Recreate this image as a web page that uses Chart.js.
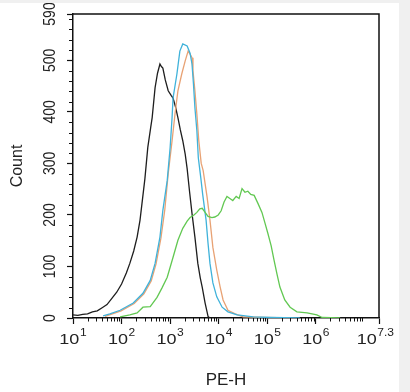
<!DOCTYPE html>
<html><head><meta charset="utf-8">
<script src="https://cdn.jsdelivr.net/npm/chart.js@4/dist/chart.umd.min.js"></script>
<style>html,body{margin:0;padding:0;background:#fff;}canvas{display:block;}</style>
</head><body>
<canvas id="c" width="410" height="392" style="width:410px;height:392px"></canvas>
<script>
// ---- axes ----
const xTickExponents = [1, 2, 3, 4, 5, 6, 7.3];
const xTickBase = '10';
const xTickSup = ['1', '2', '3', '4', '5', '6', '7.3'];
const yTicks = [0, 100, 200, 300, 400, 500, 590];
const yTickLabels = ['0', '100', '200', '300', '400', '500', '590'];
const xTitle = 'PE-H';
const yTitle = 'Count';

// ---- series (x as log10(PE-H), y as count) ----
const blackLogX = [1.00,1.10,1.20,1.30,1.40,1.50,1.60,1.70,1.80,1.90,2.00,2.10,2.17,2.25,2.32,2.38,2.42,2.48,2.54,2.60,2.63,2.69,2.74,2.79,2.82,2.85,2.90,2.96,3.02,3.06,3.11,3.16,3.21,3.26,3.31,3.35,3.40,3.45,3.51,3.57,3.62,3.66,3.72,3.76,3.78,3.82];
const blackCount = [6,5,7,8,12,14,20,26,38,50,66,88,106,130,157,190,222,270,331,370,389,447,475,493,488,485,462,441,432,427,410,389,365,344,318,290,245,203,157,106,78,60,29,12,3,0];

const orangeLogX = [1.66,1.99,2.26,2.46,2.61,2.71,2.81,2.89,2.96,3.04,3.10,3.16,3.24,3.31,3.37,3.41,3.45,3.47,3.51,3.55,3.59,3.64,3.68,3.76,3.82,3.88,3.96,4.03,4.09,4.19,4.34,4.50,4.95,5.47];
const orangeCount = [3,14,28,47,72,105,155,210,280,344,396,441,474,499,518,512,505,480,441,396,344,300,286,235,190,137,93,60,35,15,8,2,1,0];

const blueLogX = [1.62,1.76,1.97,2.24,2.44,2.59,2.69,2.79,2.85,2.94,3.00,3.04,3.06,3.14,3.20,3.26,3.35,3.41,3.45,3.48,3.51,3.55,3.58,3.63,3.67,3.74,3.78,3.82,3.88,3.96,4.07,4.19,4.38,4.71,5.06,5.67];
const blueCount = [4,8,15,29,48,73,106,157,209,267,331,389,427,474,518,532,528,514,493,454,408,364,311,273,240,190,145,106,68,41,21,12,6,2,1,0];

const greenLogX = [1.97,2.17,2.32,2.44,2.59,2.73,2.83,2.94,3.06,3.16,3.26,3.35,3.41,3.49,3.55,3.61,3.66,3.72,3.78,3.86,3.92,3.99,4.05,4.11,4.17,4.23,4.29,4.36,4.42,4.48,4.54,4.60,4.66,4.73,4.81,4.89,4.95,5.01,5.08,5.14,5.20,5.26,5.36,5.47,5.61,5.82,6.02,6.13,6.50];
const greenCount = [2,6,10,21,22,40,58,79,118,151,174,188,195,200,205,212,213,205,197,195,196,200,208,225,236,232,228,236,232,251,244,246,240,238,222,205,185,165,140,112,85,60,35,21,12,10,6,1,0];

const colors = { black: '#1e1e1e', orange: '#e8a274', blue: '#3fb2da', green: '#62c852' };

function pts(lx, cy) { return lx.map((e, i) => ({ x: Math.pow(10, e), y: cy[i] })); }

const FONT = '"Liberation Sans", Arial, sans-serif';
const STRETCH = 1.2;

const decor = {
  id: 'decor',
  beforeDraw(chart) {
    const c = chart.ctx; c.save(); c.fillStyle = '#fff'; c.fillRect(0, 0, chart.width, chart.height); c.restore();
  },
  afterDraw(chart) {
    const c = chart.ctx, a = chart.chartArea, xs = chart.scales.x, ys = chart.scales.y;
    c.save();
    c.strokeStyle = '#111'; c.lineWidth = 1.5;
    c.beginPath(); c.moveTo(a.left, a.top); c.lineTo(a.right, a.top); c.lineTo(a.right, a.bottom); c.stroke();
    // minor ticks
    c.lineWidth = 1;
    c.beginPath();
    for (let d = 1; d <= 7; d++) {
      for (let m = 2; m <= 9; m++) {
        const v = m * Math.pow(10, d);
        if (v >= xs.max) break;
        const px = Math.round(xs.getPixelForValue(v)) + 0.5;
        c.moveTo(px, a.bottom); c.lineTo(px, a.bottom + 3.5);
      }
    }
    for (let v = 20; v < 590; v += 20) {
      if (v % 100 === 0) continue;
      const py = Math.round(ys.getPixelForValue(v)) + 0.5;
      c.moveTo(a.left, py); c.lineTo(a.left - 4, py);
    }
    c.stroke();
    // x tick labels 10^n
    c.fillStyle = '#222';
    xTickExponents.forEach((e, i) => {
      const px = xs.getPixelForValue(Math.pow(10, e));
      c.font = '15px ' + FONT; const wb = c.measureText(xTickBase).width;
      c.font = '10px ' + FONT; const we = c.measureText(xTickSup[i]).width;
      const total = (wb + we + 0.5) * STRETCH;
      let start = px - total / 2;
      if (start + total > 394) start = 394 - total;
      c.save(); c.translate(start, 344); c.scale(STRETCH, 1);
      c.textAlign = 'left'; c.textBaseline = 'alphabetic';
      c.font = '15px ' + FONT; c.fillText(xTickBase, 0, 0);
      c.font = '10px ' + FONT; c.fillText(xTickSup[i], wb + 0.5, -8.5);
      c.restore();
    });
    // y tick labels rotated
    yTicks.forEach((v, i) => {
      const py = ys.getPixelForValue(v);
      c.save(); c.translate(55, py); c.scale(STRETCH, 1); c.rotate(-Math.PI / 2);
      c.font = '14px ' + FONT; c.textAlign = 'center'; c.textBaseline = 'alphabetic';
      c.fillText(yTickLabels[i], 0, 0);
      c.restore();
    });
    // grey frame of the picture
    c.fillStyle = '#f0f0f0';
    c.fillRect(0, 0, chart.width, 3);
    c.fillRect(399, 0, chart.width - 399, chart.height);
    c.restore();
  }
};

new Chart(document.getElementById('c'), {
  type: 'line',
  data: {
    datasets: [
      { label: 'green', data: pts(greenLogX, greenCount), borderColor: colors.green },
      { label: 'blue', data: pts(blueLogX, blueCount), borderColor: colors.blue },
      { label: 'orange', data: pts(orangeLogX, orangeCount), borderColor: colors.orange },
      { label: 'black', data: pts(blackLogX, blackCount), borderColor: colors.black }
    ].map(d => Object.assign(d, { borderWidth: 1.3, pointRadius: 0, fill: false, tension: 0 }))
  },
  options: {
    responsive: false, animation: false, devicePixelRatio: 1,
    layout: { padding: { top: 14, right: 31, bottom: 0, left: 0 } },
    plugins: { legend: { display: false }, tooltip: { enabled: false } },
    scales: {
      x: {
        type: 'logarithmic', min: 10, max: Math.pow(10, 7.3),
        afterBuildTicks: s => { s.ticks = xTickExponents.map(e => ({ value: Math.pow(10, e) })); },
        afterFit: s => { s.height = 74; },
        ticks: { display: false },
        grid: { display: true, drawOnChartArea: false, drawTicks: true, tickLength: 6, tickColor: '#111', tickWidth: 1.2 },
        border: { display: true, color: '#111', width: 1.5 },
        title: { display: true, text: xTitle, color: '#222', font: { family: FONT, size: 17 }, padding: { top: 0, bottom: 1 } }
      },
      y: {
        type: 'linear', min: 0, max: 590,
        afterBuildTicks: s => { s.ticks = yTicks.map(v => ({ value: v })); },
        afterFit: s => { s.width = 73; },
        ticks: { display: false },
        grid: { display: true, drawOnChartArea: false, drawTicks: true, tickLength: 6, tickColor: '#111', tickWidth: 1.2 },
        border: { display: true, color: '#111', width: 1.5 },
        title: { display: true, text: yTitle, color: '#222', font: { family: FONT, size: 16 }, padding: { top: 8, bottom: 0 } }
      }
    }
  },
  plugins: [decor]
});
</script>
</body></html>
